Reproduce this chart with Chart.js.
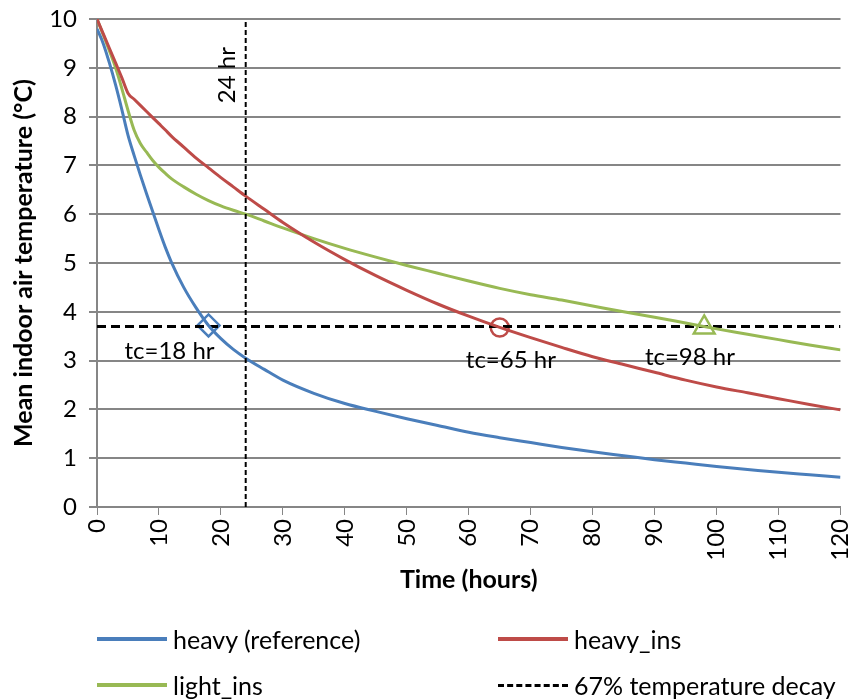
<!DOCTYPE html>
<html>
<head>
<meta charset="utf-8">
<script src="https://cdn.jsdelivr.net/npm/chart.js@4.4.1/dist/chart.umd.min.js"></script>
<style>
    body { margin: 0; background: #fff; }
    #wrap { position: relative; width: 855px; height: 699px; font-family: Lato, sans-serif; }
    .leg { position: absolute; font-size: 25px; line-height: 30px; color: #000; display: flex; align-items: center; white-space: nowrap; }
    .leg span.ln { display: inline-block; width: 70px; height: 0; border-top: 4px solid; margin-right: 6px; }
</style>
</head>
<body>
<div id="wrap">
    <canvas id="myChart" width="855" height="699"></canvas>
    <div class="leg" style="left:97px; top:624px;"><span class="ln" style="border-color:#4a7ebb"></span>heavy (reference)</div>
    <div class="leg" style="left:498px; top:624px;"><span class="ln" style="border-color:#be4b48"></span>heavy_ins</div>
    <div class="leg" style="left:97px; top:670px;"><span class="ln" style="border-color:#98b954"></span>light_ins</div>
    <div class="leg" style="left:498px; top:670px;"><span class="ln" style="border-top:3px dashed #000"></span>67% temperature decay</div>
</div>
<script>
    // time points (hours)
    const hours = [0, 1, 2, 3, 4, 5, 6, 7, 8, 9, 10, 11, 12, 14, 16, 18, 20, 22, 24, 27, 30, 35, 40, 45, 50, 55, 60, 65, 70, 75, 80, 85, 90, 95, 100, 105, 110, 115, 120];

    const heavyRef = [9.8, 9.5, 9.1, 8.65, 8.15, 7.62, 7.2, 6.8, 6.42, 6.05, 5.68, 5.33, 5.02, 4.5, 4.08, 3.72, 3.45, 3.23, 3.05, 2.82, 2.6, 2.33, 2.12, 1.96, 1.81, 1.67, 1.53, 1.42, 1.32, 1.22, 1.13, 1.05, 0.97, 0.9, 0.83, 0.77, 0.71, 0.66, 0.61];
    const heavyIns = [10, 9.7, 9.4, 9.1, 8.8, 8.48, 8.355, 8.23, 8.105, 7.98, 7.855, 7.73, 7.6, 7.375, 7.15, 6.95, 6.75, 6.56, 6.37, 6.1, 5.83, 5.43, 5.07, 4.74, 4.44, 4.16, 3.91, 3.68, 3.47, 3.27, 3.08, 2.92, 2.76, 2.6, 2.46, 2.34, 2.22, 2.1, 1.99];
    const lightIns = [10, 9.68, 9.35, 9.0, 8.58, 8.13, 7.72, 7.45, 7.27, 7.1, 6.96, 6.84, 6.73, 6.56, 6.41, 6.28, 6.17, 6.08, 6.0, 5.86, 5.72, 5.5, 5.3, 5.12, 4.95, 4.79, 4.63, 4.48, 4.35, 4.24, 4.12, 4.0, 3.89, 3.77, 3.65, 3.54, 3.43, 3.32, 3.22];

    // 67% decay level and time constants
    const decayLevel = 3.7;
    const tcHours = [18, 65, 98];
    const tcValues = [3.72, 3.68, 3.68];
    const tcLabels = ['tc=18 hr', 'tc=65 hr', 'tc=98 hr'];
    const tcLabelPos = [[11.7, 3.2], [66.8, 3.0], [95.7, 3.07]];

    const xTicks = [0, 10, 20, 30, 40, 50, 60, 70, 80, 90, 100, 110, 120];
    const yTicks = [0, 1, 2, 3, 4, 5, 6, 7, 8, 9, 10];

    const blue = '#4a7ebb', red = '#be4b48', green = '#98b954', grid = '#868686';
    const font = 'Lato, sans-serif';

    const toPts = (vals) => hours.map((h, i) => ({x: h, y: vals[i]}));

    const curve = (label, vals, color) => ({
        label: label,
        data: toPts(vals),
        showLine: true,
        borderColor: color,
        borderWidth: 3,
        pointRadius: 0,
        cubicInterpolationMode: 'monotone',
        fill: false
    });

    const marker = (i, style, color, r) => ({
        label: 'tc' + i,
        data: [{x: tcHours[i], y: tcValues[i]}],
        showLine: false,
        pointStyle: style,
        pointRadius: r,
        pointBackgroundColor: '#fff',
        pointBorderColor: color,
        pointBorderWidth: 2.5
    });

    // text labels on the plot
    const labelsPlugin = {
        id: 'labelsPlugin',
        afterDatasetsDraw(chart) {
            const {ctx, scales: {x, y}} = chart;
            ctx.save();
            ctx.fillStyle = '#000';
            ctx.font = '24px ' + font;
            ctx.textAlign = 'center';
            ctx.textBaseline = 'middle';
            tcLabels.forEach((t, i) => {
                ctx.fillText(t, x.getPixelForValue(tcLabelPos[i][0]), y.getPixelForValue(tcLabelPos[i][1]));
            });
            // 24 hr
            ctx.translate(x.getPixelForValue(21.1), y.getPixelForValue(8.85));
            ctx.rotate(-Math.PI / 2);
            ctx.fillText('24 hr', 0, 0);
            ctx.restore();
        }
    };

    new Chart(document.getElementById('myChart'), {
        type: 'scatter',
        data: {
            datasets: [
                {
                    label: '24 hr line',
                    data: [{x: 24, y: 0}, {x: 24, y: 10}],
                    showLine: true,
                    borderColor: '#000',
                    borderWidth: 2,
                    borderDash: [5, 3],
                    pointRadius: 0
                },
                curve('heavy (reference)', heavyRef, blue),
                curve('heavy_ins', heavyIns, red),
                curve('light_ins', lightIns, green),
                {
                    label: '67% temperature decay',
                    data: [{x: 0, y: decayLevel}, {x: 120, y: decayLevel}],
                    showLine: true,
                    borderColor: '#000',
                    borderWidth: 3,
                    borderDash: [9, 5],
                    pointRadius: 0
                },
                marker(0, 'rectRot', blue, 11),
                marker(1, 'circle', red, 9),
                marker(2, 'triangle', green, 12)
            ]
        },
        options: {
            responsive: false,
            animation: false,
            layout: {padding: {left: 0, right: 12, top: 19, bottom: 104}},
            plugins: {
                legend: {display: false},
                tooltip: {enabled: false}
            },
            scales: {
                x: {
                    type: 'linear',
                    min: 0,
                    max: 120,
                    afterBuildTicks: (s) => { s.ticks = xTicks.map(v => ({value: v})); },
                    afterFit: (s) => { s.height = 88; s.paddingLeft = 0; s.paddingRight = 0; },
                    grid: {drawOnChartArea: false, drawTicks: true, tickLength: 8, color: grid},
                    border: {display: true, color: grid, width: 2},
                    ticks: {
                        color: '#000',
                        font: {family: font, size: 24},
                        minRotation: 90,
                        maxRotation: 90,
                        padding: 4
                    },
                    title: {
                        display: true,
                        text: 'Time (hours)',
                        color: '#000',
                        font: {family: font, size: 25, weight: 'bold'},
                        padding: 0
                    }
                },
                y: {
                    min: 0,
                    max: 10,
                    afterBuildTicks: (s) => { s.ticks = yTicks.map(v => ({value: v})); },
                    afterFit: (s) => { s.width = 97; s.paddingTop = 0; s.paddingBottom = 0; },
                    grid: {color: grid, lineWidth: 2, tickLength: 8},
                    border: {display: true, color: grid, width: 2},
                    ticks: {
                        color: '#000',
                        font: {family: font, size: 24},
                        padding: 12
                    },
                    title: {
                        display: true,
                        text: 'Mean indoor air temperature (°C)',
                        color: '#000',
                        font: {family: font, size: 25, weight: 'bold'},
                        padding: {top: 9, bottom: 0}
                    }
                }
            }
        },
        plugins: [labelsPlugin]
    });
</script>
</body>
</html>
